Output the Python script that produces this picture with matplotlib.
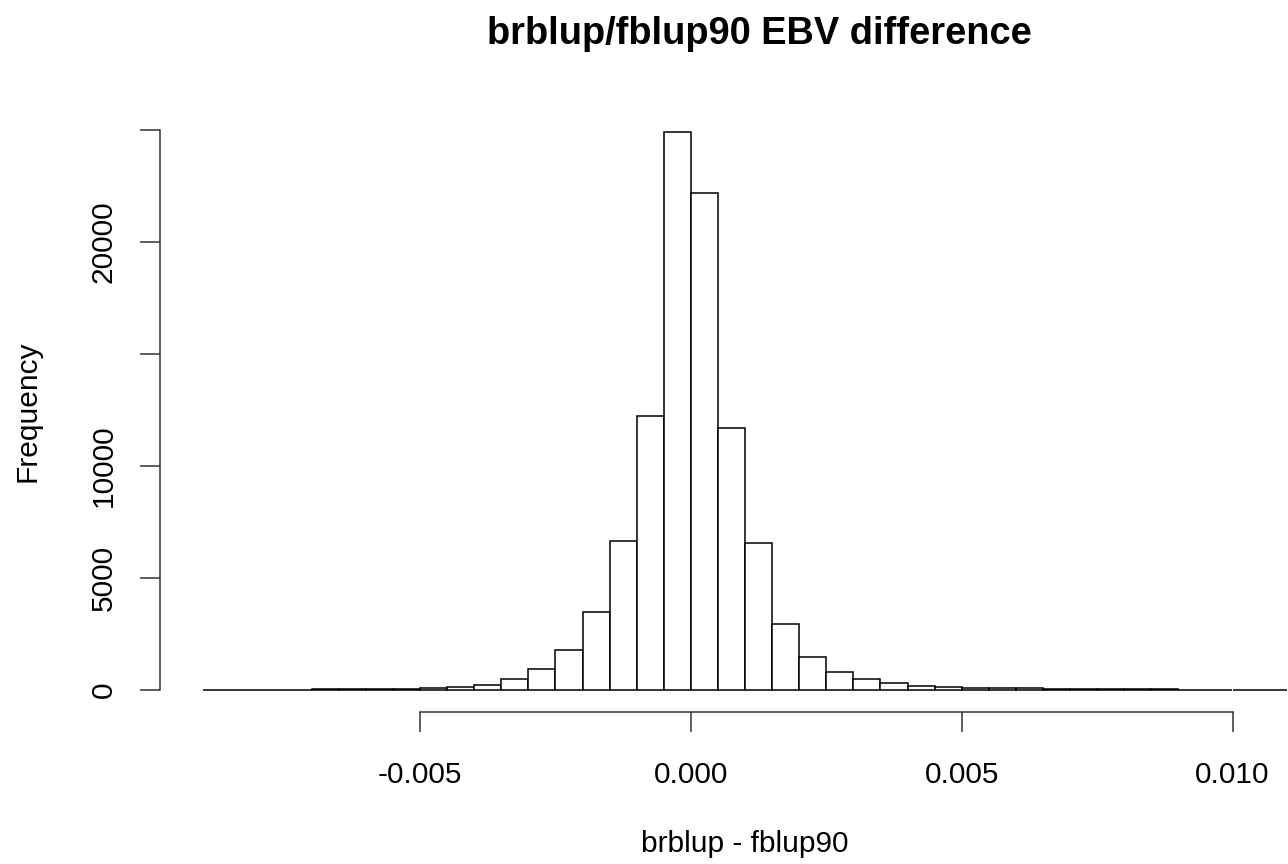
import numpy as np
import matplotlib.pyplot as plt

plt.rcParams['font.family'] = ['Liberation Sans', 'DejaVu Sans']

# histogram of brblup - fblup90, bin width 0.0005 from -0.009 to 0.011
bin_start = -0.009
bin_width = 0.0005
counts = [
    2, 3, 5, 8, 12, 22, 35, 50, 90, 120,
    220, 490, 940, 1780, 3480, 6650, 12230, 24910,
    22190, 11700, 6560, 2950, 1440, 770, 490, 290, 170, 110,
    90, 70, 55, 40, 30, 22, 15, 12, 8, 5, 3, 2,
]
x_ticks = [-0.005, 0.0, 0.005, 0.010]
x_tick_labels = ["-0.005", "0.000", "0.005", "0.010"]
y_ticks = [0, 5000, 10000, 15000, 20000, 25000]
y_tick_labels = ["0", "5000", "10000", "", "20000", ""]

title = "brblup/fblup90 EBV difference"
x_label = "brblup - fblup90"
y_label = "Frequency"

W, H = 1288, 864
fig = plt.figure(figsize=(W / 100, H / 100), dpi=100)

# plot region in pixels (R style), extends past the right edge like the original
left_px, right_px, top_px, bottom_px = 160, 1330, 110, 712
ax = fig.add_axes([left_px / W, 1 - bottom_px / H,
                   (right_px - left_px) / W, (bottom_px - top_px) / H])

edges = bin_start + bin_width * np.arange(len(counts) + 1)
ax.bar(edges[:-1], counts, width=bin_width, align="edge",
       facecolor="white", edgecolor="black", linewidth=1.1)

# R pads both axes by 4%
span = edges[-1] - edges[0]
ax.set_xlim(edges[0] - 0.04 * span, edges[-1] + 0.04 * span)
ymax = max(counts)
ax.set_ylim(-0.04 * ymax, 1.04 * ymax)

for side in ["top", "right"]:
    ax.spines[side].set_visible(False)
ax.spines["left"].set_bounds(y_ticks[0], y_ticks[-1])
ax.spines["bottom"].set_bounds(x_ticks[0], x_ticks[-1])
for side in ["left", "bottom"]:
    ax.spines[side].set_linewidth(1.1)
    ax.spines[side].set_color("#333333")

ax.set_xticks(x_ticks)
ax.set_xticklabels(x_tick_labels)
ax.set_yticks(y_ticks)
ax.set_yticklabels(y_tick_labels, rotation=90, va="center")
ax.tick_params(axis="both", direction="out", length=14.5, width=1.1,
               color="#333333", labelsize=21.5)
ax.tick_params(axis="x", pad=20.5)
ax.tick_params(axis="y", pad=16)

fig.text(759 / W, 1 - 44 / H, title, ha="center", va="baseline",
         fontsize=27.4, fontweight="bold")
fig.text((left_px + right_px) / 2 / W, 1 - 852 / H, x_label,
         ha="center", va="baseline", fontsize=21.5)
fig.text(42 / W, 1 - (top_px + bottom_px) / 2 / H, y_label, rotation=90,
         ha="right", va="center", fontsize=21.5)

fig.savefig("out.png", dpi=100)
